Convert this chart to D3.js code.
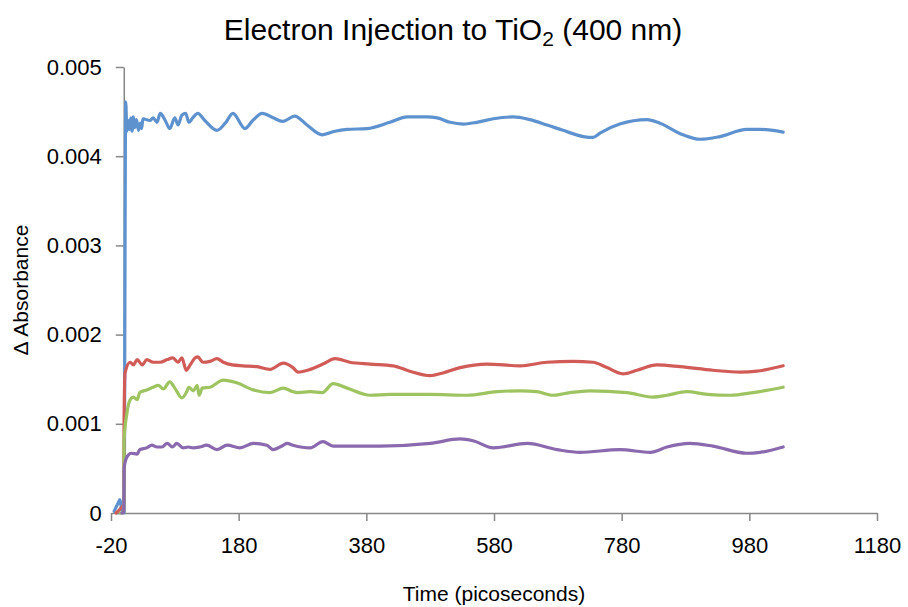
<!DOCTYPE html>
<html>
<head>
<meta charset="utf-8">
<script src="https://cdn.jsdelivr.net/npm/d3@7"></script>
<style>
  body { margin: 0; background: #fff; }
  text { font-family: "Liberation Sans", Arial, sans-serif; fill: #000; }
</style>
</head>
<body>
<div id="chart"></div>
<script>
// values (time in ps, delta absorbance)
const xTicks = [-20, 180, 380, 580, 780, 980, 1180];
const yTicks = [0, 0.001, 0.002, 0.003, 0.004, 0.005];

const blueT = [-15, -9, -6, -3, 0.5, 3, 5, 7, 9, 11, 13, 15, 17, 20, 23, 26, 28, 30, 41, 46, 52, 57, 65, 72, 80, 85, 91, 97, 102, 108, 116, 127, 146, 159, 171, 190, 202, 217, 234, 249, 268, 287, 311, 331, 350, 381, 417, 444, 475, 491, 511, 532, 553, 579, 610, 636, 663, 688, 720, 735, 746, 777, 820, 840, 876, 903, 934, 976, 997, 1033];
const blueA = [0.00002, 0.00011, 0.00015, 0.00003, 0, 0.00461, 0.00428, 0.0044, 0.0043, 0.00443, 0.00428, 0.00444, 0.00432, 0.00441, 0.00429, 0.00437, 0.00431, 0.00442, 0.0044, 0.00443, 0.00438, 0.00448, 0.0044, 0.00431, 0.00443, 0.00435, 0.00446, 0.00448, 0.00438, 0.00443, 0.00448, 0.0044, 0.00429, 0.00437, 0.00448, 0.00431, 0.0044, 0.00448, 0.00443, 0.00439, 0.00445, 0.00435, 0.00424, 0.00428, 0.0043, 0.00431, 0.00438, 0.00444, 0.00444, 0.00443, 0.00438, 0.00436, 0.00438, 0.00442, 0.00444, 0.00441, 0.00435, 0.00429, 0.00422, 0.00421, 0.00426, 0.00436, 0.00441, 0.00437, 0.00424, 0.00419, 0.00422, 0.0043, 0.0043, 0.00427];

const redT = [-12, -5, 0, 0.5, 2, 10, 15, 21, 29, 36, 46, 57, 68, 77, 85, 91, 98, 104, 112, 116, 124, 135, 146, 156, 170, 187, 209, 229, 250, 265, 273, 292, 312, 331, 354, 386, 422, 448, 480, 500, 527, 569, 621, 663, 704, 735, 757, 782, 804, 835, 872, 923, 966, 992, 1033];
const redA = [0, 0.00005, 0.0001, 0.00104, 0.00157, 0.00169, 0.00166, 0.00172, 0.00166, 0.00172, 0.00169, 0.00169, 0.00172, 0.00174, 0.00169, 0.00174, 0.0016, 0.00166, 0.00174, 0.00175, 0.00169, 0.0017, 0.00173, 0.00169, 0.00166, 0.00165, 0.00164, 0.00161, 0.00168, 0.00163, 0.00158, 0.00161, 0.00167, 0.00173, 0.00169, 0.00167, 0.00165, 0.00159, 0.00154, 0.00157, 0.00163, 0.00167, 0.00165, 0.00169, 0.0017, 0.00169, 0.00163, 0.00156, 0.0016, 0.00166, 0.00164, 0.0016, 0.00158, 0.00159, 0.00165];

const greenT = [-5, 0, 0.5, 5, 10, 15, 21, 25, 36, 46, 54, 62, 72, 80, 91, 98, 102, 109, 115, 118, 123, 135, 156, 177, 203, 229, 250, 265, 273, 292, 311, 328, 350, 386, 417, 480, 538, 585, 621, 647, 673, 699, 730, 788, 829, 851, 882, 914, 950, 986, 1033];
const greenA = [0, 0.00001, 0.00082, 0.00112, 0.00127, 0.0013, 0.00127, 0.00135, 0.00138, 0.00141, 0.00143, 0.00139, 0.00147, 0.0014, 0.00129, 0.00135, 0.00141, 0.00137, 0.00143, 0.00132, 0.0014, 0.00141, 0.00149, 0.00146, 0.00138, 0.00135, 0.0014, 0.00136, 0.00135, 0.00136, 0.00135, 0.00145, 0.0014, 0.00132, 0.00133, 0.00133, 0.00132, 0.00136, 0.00137, 0.00136, 0.00132, 0.00135, 0.00137, 0.00135, 0.0013, 0.00132, 0.00136, 0.00133, 0.00132, 0.00135, 0.00141];

const purpleT = [-3, 0, 0.5, 5, 12, 21, 25, 36, 44, 52, 60, 68, 76, 83, 93, 101, 109, 119, 130, 146, 162, 182, 203, 224, 234, 250, 256, 265, 292, 312, 328, 401, 480, 527, 547, 579, 632, 679, 715, 777, 825, 851, 887, 923, 976, 997, 1033];
const purpleA = [0, 0.00001, 0.0005, 0.00063, 0.00067, 0.00066, 0.00071, 0.00073, 0.00076, 0.00074, 0.00074, 0.00078, 0.00074, 0.00078, 0.00073, 0.00074, 0.00073, 0.00074, 0.00076, 0.00071, 0.00076, 0.00073, 0.00078, 0.00076, 0.00071, 0.00076, 0.00078, 0.00076, 0.00073, 0.0008, 0.00075, 0.00075, 0.00078, 0.00083, 0.00081, 0.00073, 0.00078, 0.00071, 0.00068, 0.00071, 0.00068, 0.00074, 0.00078, 0.00075, 0.00067, 0.00068, 0.00074];

const seriesList = [
  { t: blueT, a: blueA, color: "#5e92cf" },
  { t: redT, a: redA, color: "#d05b57" },
  { t: greenT, a: greenA, color: "#9ec462" },
  { t: purpleT, a: purpleA, color: "#8a69ae" }
];

const width = 908
const height = 607

const svg = d3.select("#chart")
  .append("svg")
  .attr("width", width)
  .attr("height", height)

var x = d3.scaleLinear().domain([-20, 1180]).range([111, 877]);
var y = d3.scaleLinear().domain([0, 0.005]).range([513, 67]);

var axisColor = "#878787";

// x axis sits on y = 0, plain hyphen for the minus sign
var xAxis = svg.append("g")
  .attr("transform", "translate(0," + y(0) + ")")
  .call(d3.axisBottom(x).tickValues(xTicks).tickSize(8).tickSizeOuter(0).tickPadding(16)
    .tickFormat(function (d) { return String(d); }));

// y axis crosses at time 0, like excel
var yAxis = svg.append("g")
  .attr("transform", "translate(" + x(0) + ",0)")
  .call(d3.axisLeft(y).tickValues(yTicks).tickSize(8).tickSizeOuter(0).tickPadding(14)
    .tickFormat(function (d) { return d === 0 ? "0" : d3.format(".3f")(d); }));

[xAxis, yAxis].forEach(function (g) {
  g.select(".domain").attr("stroke", axisColor).attr("stroke-width", 1.5);
  g.selectAll(".tick line").attr("stroke", axisColor).attr("stroke-width", 1.5);
  g.selectAll(".tick text")
    .attr("fill", "#000")
    .attr("font-size", "22px")
    .attr("font-family", "Liberation Sans, Arial, sans-serif");
});

// lines
var line = d3.line()
  .x(function (d) { return x(d[0]); })
  .y(function (d) { return y(d[1]); })
  .curve(d3.curveMonotoneX);

seriesList.forEach(function (s) {
  svg.append("path")
    .datum(d3.zip(s.t, s.a))
    .attr("fill", "none")
    .attr("stroke", s.color)
    .attr("stroke-width", 3.2)
    .attr("stroke-linejoin", "round")
    .attr("stroke-linecap", "round")
    .attr("d", line);
});

// title
var title = svg.append("text")
  .attr("x", 453)
  .attr("y", 40)
  .attr("text-anchor", "middle")
  .attr("font-size", "30px");
title.append("tspan").text("Electron Injection to TiO");
title.append("tspan").attr("font-size", "21px").attr("dy", 6).text("2");
title.append("tspan").attr("dy", -6).text(" (400 nm)");

svg.append("text")
  .attr("x", 494)
  .attr("y", 601)
  .attr("text-anchor", "middle")
  .attr("font-size", "21px")
  .text("Time (picoseconds)");

svg.append("text")
  .attr("transform", "translate(28,290) rotate(-90)")
  .attr("text-anchor", "middle")
  .attr("font-size", "21px")
  .text("Δ Absorbance");
</script>
</body>
</html>
